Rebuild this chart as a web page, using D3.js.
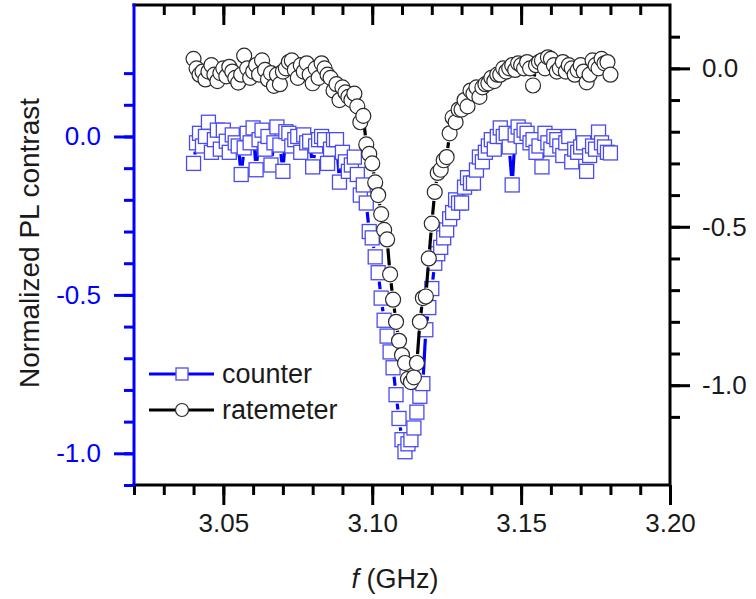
<!DOCTYPE html>
<html>
<head>
<meta charset="utf-8">
<script src="https://cdn.jsdelivr.net/npm/d3@7"></script>
<style>
  body { margin: 0; background: #fff; }
  svg { display: block; font-family: "Liberation Sans", Arial, sans-serif; }
</style>
</head>
<body>
<div id="chart"></div>
<script>
// frequency sweep (GHz)
const freq = [
  3.040,3.041,3.042,3.043,3.044,3.045,3.046,3.047,3.048,3.049,
  3.050,3.051,3.052,3.053,3.054,3.055,3.056,3.057,3.058,3.059,
  3.060,3.061,3.062,3.063,3.064,3.065,3.066,3.067,3.068,3.069,
  3.070,3.071,3.072,3.073,3.074,3.075,3.076,3.077,3.078,3.079,
  3.080,3.081,3.082,3.083,3.084,3.085,3.086,3.087,3.088,3.089,
  3.090,3.091,3.092,3.093,3.094,3.095,3.096,3.097,3.098,3.099,
  3.100,3.101,3.102,3.103,3.104,3.105,3.106,3.107,3.108,3.109,
  3.110,3.111,3.112,3.113,3.114,3.115,3.116,3.117,3.118,3.119,
  3.120,3.121,3.122,3.123,3.124,3.125,3.126,3.127,3.128,3.129,
  3.130,3.131,3.132,3.133,3.134,3.135,3.136,3.137,3.138,3.139,
  3.140,3.141,3.142,3.143,3.144,3.145,3.146,3.147,3.148,3.149,
  3.150,3.151,3.152,3.153,3.154,3.155,3.156,3.157,3.158,3.159,
  3.160,3.161,3.162,3.163,3.164,3.165,3.166,3.167,3.168,3.169,
  3.170,3.171,3.172,3.173,3.174,3.175,3.176,3.177,3.178,3.179,
  3.180
];

// counter (left axis)
const counter = [
  -0.085,-0.02,0.01,-0.03,0.0,0.045,-0.05,-0.01,0.02,-0.04,
  0.02,-0.015,-0.05,0.005,-0.02,-0.03,-0.12,-0.036,0.01,-0.02,
  0.027,-0.105,-0.01,0.02,-0.04,0.0,-0.09,-0.02,0.03,-0.027,
  -0.11,0.015,0.01,-0.03,-0.01,0.0,-0.05,0.005,-0.02,-0.015,
  -0.096,-0.03,-0.01,0.0,-0.01,-0.085,-0.04,-0.01,-0.01,-0.144,
  -0.05,-0.08,-0.11,-0.09,-0.065,-0.12,-0.185,-0.153,-0.21,-0.30,
  -0.32,-0.38,-0.43,-0.51,-0.58,-0.63,-0.68,-0.73,-0.815,-0.89,
  -0.957,-0.995,-0.97,-0.957,-0.92,-0.87,-0.82,-0.78,-0.61,-0.54,
  -0.48,-0.40,-0.37,-0.35,-0.32,-0.295,-0.26,-0.24,-0.20,-0.21,
  -0.21,-0.16,-0.13,-0.147,-0.147,-0.106,-0.065,-0.08,-0.05,-0.03,
  -0.01,-0.04,0.0,0.027,0.0,0.01,-0.033,-0.153,0.005,0.03,
  0.0,0.02,0.01,-0.02,-0.01,-0.05,-0.03,-0.096,0.01,-0.02,
  -0.04,0.0,-0.01,-0.03,-0.06,-0.02,0.0,-0.08,-0.04,-0.05,
  -0.033,-0.02,-0.11,-0.06,-0.03,-0.04,0.014,-0.02,-0.033,-0.05,
  -0.052
];

// ratemeter (right axis)
const ratemeter = [
  0.03,0.0,-0.02,-0.01,-0.035,-0.01,0.01,-0.02,-0.04,-0.015,
  0.0,-0.025,0.005,-0.01,-0.03,-0.045,-0.02,0.04,0.0,-0.03,
  -0.01,0.01,-0.02,0.025,-0.005,-0.035,-0.015,-0.055,-0.02,-0.05,
  -0.01,0.0,0.02,0.025,-0.005,-0.03,0.01,-0.01,0.016,-0.02,
  -0.047,0.0,-0.03,0.016,0.0,-0.02,-0.03,-0.07,-0.05,-0.1,
  -0.06,-0.076,-0.09,-0.1,-0.08,-0.12,-0.17,-0.15,-0.24,-0.27,
  -0.30,-0.36,-0.40,-0.46,-0.51,-0.54,-0.65,-0.73,-0.80,-0.86,
  -0.905,-0.93,-0.98,-0.99,-0.975,-0.93,-0.80,-0.725,-0.72,-0.60,
  -0.49,-0.39,-0.33,-0.32,-0.29,-0.28,-0.205,-0.155,-0.17,-0.13,
  -0.13,-0.10,-0.12,-0.07,-0.08,-0.06,-0.09,-0.06,-0.05,-0.047,
  -0.03,-0.04,-0.02,-0.02,0.0,-0.01,0.0,0.01,-0.005,0.016,
  0.01,0.0,0.02,0.0,-0.054,0.01,0.02,0.025,0.0,0.035,
  0.03,0.01,-0.01,0.0,0.02,-0.01,0.01,0.0,-0.02,-0.006,
  0.01,-0.01,-0.044,-0.02,0.025,0.01,0.0,0.03,0.016,0.02,
  -0.02
];

const xTickLabels = [3.05, 3.10, 3.15, 3.20];
const leftTickLabels = [0.0, -0.5, -1.0];
const rightTickLabels = [0.0, -0.5, -1.0];
const seriesNames = ["counter", "ratemeter"];

const width = 756, height = 599;
const m = { left: 134, right: 670, top: 5, bottom: 485 };
const BLUE = "#0000ff";
const TEXT = "#1a1a1a";

const svg = d3.select("#chart").append("svg")
  .attr("width", width)
  .attr("height", height);

const x = d3.scaleLinear().domain([3.02, 3.20]).range([m.left, m.right]);
const yL = d3.scaleLinear().domain([-1.1, 0.415]).range([m.bottom, m.top]);
const yR = d3.scaleLinear().domain([-1.315, 0.2]).range([m.bottom, m.top]);

const xMinor = d3.range(302, 321).map(k => k / 100);
const yLMinor = d3.range(-11, 3).map(k => k / 10);
const yRMinor = d3.range(-11, 2).map(k => k / 10);

// plain hyphen instead of d3's unicode minus
const fmt1 = v => d3.format(".1f")(v).replace("\u2212", "-");
const fmt2 = v => d3.format(".2f")(v);

function styleAxis(g, lineColor, textColor, size) {
  g.select(".domain").remove();
  g.selectAll(".tick line").attr("stroke", lineColor).attr("stroke-width", 3);
  g.selectAll(".tick text").attr("fill", textColor)
    .attr("font-size", size)
    .attr("font-family", '"Liberation Sans", Arial, sans-serif');
}

// bottom axis
svg.append("g").attr("transform", `translate(0,${m.bottom})`)
  .call(d3.axisBottom(x).tickValues(xMinor).tickSize(10).tickFormat(""))
  .call(g => styleAxis(g, "#000", TEXT, 26));
svg.append("g").attr("transform", `translate(0,${m.bottom})`)
  .call(d3.axisBottom(x).tickValues(xTickLabels).tickSize(20).tickPadding(9).tickFormat(fmt2))
  .call(g => styleAxis(g, "#000", TEXT, 26));

// top axis (inward ticks)
svg.append("g").attr("transform", `translate(0,${m.top})`)
  .call(d3.axisTop(x).tickValues(xMinor.slice(1, -1)).tickSize(-10).tickFormat(""))
  .call(g => styleAxis(g, "#000", TEXT, 26));
svg.append("g").attr("transform", `translate(0,${m.top})`)
  .call(d3.axisTop(x).tickValues(xTickLabels.slice(0, -1)).tickSize(-20).tickFormat(""))
  .call(g => styleAxis(g, "#000", TEXT, 26));

// left axis (blue)
svg.append("g").attr("transform", `translate(${m.left},0)`)
  .call(d3.axisLeft(yL).tickValues(yLMinor).tickSize(10).tickFormat(""))
  .call(g => styleAxis(g, BLUE, BLUE, 26));
svg.append("g").attr("transform", `translate(${m.left},0)`)
  .call(d3.axisLeft(yL).tickValues(leftTickLabels).tickSize(20).tickPadding(13).tickFormat(fmt1))
  .call(g => styleAxis(g, BLUE, BLUE, 26));

// right axis
svg.append("g").attr("transform", `translate(${m.right},0)`)
  .call(d3.axisRight(yR).tickValues(yRMinor).tickSize(10).tickFormat(""))
  .call(g => styleAxis(g, "#000", TEXT, 26));
svg.append("g").attr("transform", `translate(${m.right},0)`)
  .call(d3.axisRight(yR).tickValues(rightTickLabels).tickSize(20).tickPadding(12).tickFormat(fmt1))
  .call(g => styleAxis(g, "#000", TEXT, 26));

// frame
svg.append("path")
  .attr("d", `M${m.left - 1.5},${m.top}H${m.right}V${m.bottom}H${m.left - 1.5}`)
  .attr("fill", "none").attr("stroke", "#000").attr("stroke-width", 3);
svg.append("line")
  .attr("x1", m.left).attr("x2", m.left)
  .attr("y1", m.top - 1.5).attr("y2", m.bottom + 1.5)
  .attr("stroke", BLUE).attr("stroke-width", 3);

// line segments with gaps around symbols (Origin style)
function gappedSegments(pts, gap) {
  const segs = [];
  for (let i = 1; i < pts.length; i++) {
    const [x1, y1] = pts[i - 1], [x2, y2] = pts[i];
    const dx = x2 - x1, dy = y2 - y1, d = Math.hypot(dx, dy);
    if (d <= 2 * gap) continue;
    const ux = dx / d, uy = dy / d;
    segs.push([x1 + ux * gap, y1 + uy * gap, x2 - ux * gap, y2 - uy * gap]);
  }
  return segs;
}

const plotArea = svg.append("g");

function drawSeries(values, yScale, lineColor, drawMarker) {
  const pts = freq.map((f, i) => [x(f), yScale(values[i])]);
  const g = plotArea.append("g");
  g.selectAll("line.seg")
    .data(gappedSegments(pts, 9))
    .join("line")
    .attr("class", "seg")
    .attr("x1", d => d[0]).attr("y1", d => d[1])
    .attr("x2", d => d[2]).attr("y2", d => d[3])
    .attr("stroke", lineColor).attr("stroke-width", 3.2);
  drawMarker(g.selectAll("g.pt").data(pts).join("g").attr("class", "pt"));
}

const sq = 14;
drawSeries(counter, yL, BLUE, sel => sel.append("rect")
  .attr("x", d => d[0] - sq / 2).attr("y", d => d[1] - sq / 2)
  .attr("width", sq).attr("height", sq)
  .attr("fill", "#fff").attr("stroke", "#4a4af2").attr("stroke-width", 1.3));

drawSeries(ratemeter, yR, "#000", sel => sel.append("circle")
  .attr("cx", d => d[0]).attr("cy", d => d[1]).attr("r", 7.5)
  .attr("fill", "#fff").attr("stroke", "#2a2a2a").attr("stroke-width", 1.2));

// legend
const legend = svg.append("g");
const legRows = [
  { name: seriesNames[0], color: BLUE, y: 374, shape: "square" },
  { name: seriesNames[1], color: "#000", y: 410, shape: "circle" }
];
legRows.forEach(r => {
  legend.append("line")
    .attr("x1", 149).attr("x2", 214).attr("y1", r.y).attr("y2", r.y)
    .attr("stroke", r.color).attr("stroke-width", 3.2);
  if (r.shape === "square") {
    legend.append("rect").attr("x", 176).attr("y", r.y - 6).attr("width", 12).attr("height", 12)
      .attr("fill", "#fff").attr("stroke", "#4a4af2").attr("stroke-width", 1.3);
  } else {
    legend.append("circle").attr("cx", 182).attr("cy", r.y).attr("r", 6.5)
      .attr("fill", "#fff").attr("stroke", "#2a2a2a").attr("stroke-width", 1.2);
  }
  legend.append("text")
    .attr("x", 222).attr("y", r.y).attr("dy", "0.35em")
    .attr("font-size", 27).attr("fill", TEXT)
    .text(r.name);
});

// axis titles
const xt = svg.append("text")
  .attr("x", 395).attr("y", 588)
  .attr("text-anchor", "middle").attr("font-size", 27).attr("fill", TEXT);
xt.append("tspan").attr("font-style", "italic").text("f");
xt.append("tspan").text(" (GHz)");

svg.append("text")
  .attr("transform", "translate(39,243) rotate(-90)")
  .attr("text-anchor", "middle").attr("font-size", 28).attr("fill", TEXT)
  .text("Normalized PL contrast");
</script>
</body>
</html>
